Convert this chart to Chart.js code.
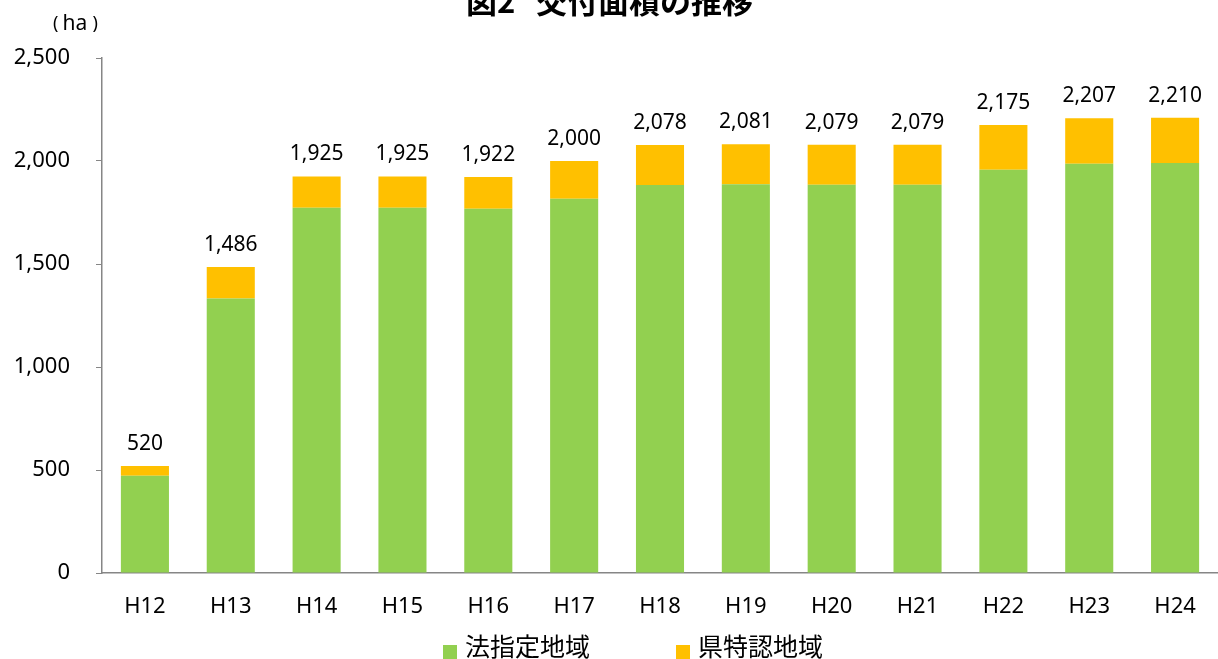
<!DOCTYPE html>
<html><head><meta charset="utf-8">
<script src="https://cdn.jsdelivr.net/npm/chart.js@4.4.1/dist/chart.umd.min.js"></script>
<style>html,body{margin:0;padding:0;background:#fff}#wrap{width:1218px;height:659px}</style>
</head><body><div id="wrap"><canvas id="c" width="1218" height="659"></canvas></div>
<script>
const categories = ["H12","H13","H14","H15","H16","H17","H18","H19","H20","H21","H22","H23","H24"];
const lawDesignated = [472,1333,1773,1773,1768,1817,1883,1887,1885,1885,1958,1987,1990];
const totals = [520,1486,1925,1925,1922,2000,2078,2081,2079,2079,2175,2207,2210];
const prefSpecial = totals.map((t,i)=>t-lawDesignated[i]);
const seriesNames = ["法指定地域","県特認地域"];
const yTicks = [0,500,1000,1500,2000,2500];
const titleParts = ["図2","交付面積の推移"];
const unitText = "ha";

const NUMFONT = "'Noto Sans', sans-serif";
const JPFONT = "'Noto Sans CJK JP', sans-serif";
const colors = ["#92D050","#FFC000"];

const overlay = {
  id:'overlay',
  afterDatasetsDraw(chart){
    const ctx = chart.ctx;
    const m0 = chart.getDatasetMeta(1);
    ctx.save();
    ctx.fillStyle = '#000';
    ctx.font = "21px " + NUMFONT;
    ctx.textAlign = 'center';
    ctx.textBaseline = 'middle';
    m0.data.forEach((bar,i)=>{
      ctx.fillText(totals[i].toLocaleString('en-US'), bar.x, bar.y - 22);
    });
    // title
    ctx.font = "bold 31px " + JPFONT;
    ctx.textAlign = 'left';
    ctx.textBaseline = 'alphabetic';
    ctx.fillText(titleParts[0], 466, 13);
    ctx.fillText(titleParts[1], 536, 13);
    // unit
    ctx.font = "18px " + NUMFONT;
    ctx.textBaseline = 'middle';
    ctx.textAlign = 'left';
    ctx.fillText("(", 53, 24);
    ctx.textAlign = 'right';
    ctx.fillText(")", 98, 24);
    ctx.textAlign = 'center';
    ctx.font = "21px " + NUMFONT;
    ctx.fillText(unitText, 75, 24);
    // legend
    ctx.font = "25px " + JPFONT;
    ctx.textAlign = 'left';
    const items = [[443, 465],[676, 698]];
    items.forEach((p,k)=>{
      ctx.fillStyle = colors[k];
      ctx.fillRect(p[0], 645, 14, 14);
      ctx.fillStyle = '#000';
      ctx.fillText(seriesNames[k], p[1], 646);
    });
    ctx.restore();
  }
};

new Chart(document.getElementById('c'), {
  type:'bar',
  data:{
    labels: categories,
    datasets:[
      {label:seriesNames[0], data:lawDesignated, backgroundColor:colors[0], borderWidth:0, categoryPercentage:1, barPercentage:0.56, stack:'s'},
      {label:seriesNames[1], data:prefSpecial, backgroundColor:colors[1], borderWidth:0, categoryPercentage:1, barPercentage:0.56, stack:'s'}
    ]
  },
  options:{
    responsive:false,
    animation:false,
    layout:{padding:{top:58,right:0,bottom:36,left:0}},
    plugins:{legend:{display:false}, title:{display:false}, tooltip:{enabled:false}},
    scales:{
      x:{
        stacked:true,
        grid:{display:false, drawTicks:false},
        border:{display:true, color:'#868686', width:1.5},
        ticks:{color:'#000', font:{family:NUMFONT, size:22}, padding:21},
        afterFit(s){ s.height = 50; }
      },
      y:{
        stacked:true,
        min:0, max:2500,
        afterBuildTicks(s){ s.ticks = yTicks.map(v=>({value:v})); },
        grid:{display:true, drawOnChartArea:false, drawTicks:true, tickLength:6, color:'#868686'},
        border:{display:true, color:'#868686', width:1.5},
        ticks:{color:'#000', font:{family:NUMFONT, size:22}, padding:26,
          callback:(v)=>Number(v).toLocaleString('en-US')},
        afterFit(s){ s.width = 102; }
      }
    }
  },
  plugins:[overlay]
});
</script></body></html>
